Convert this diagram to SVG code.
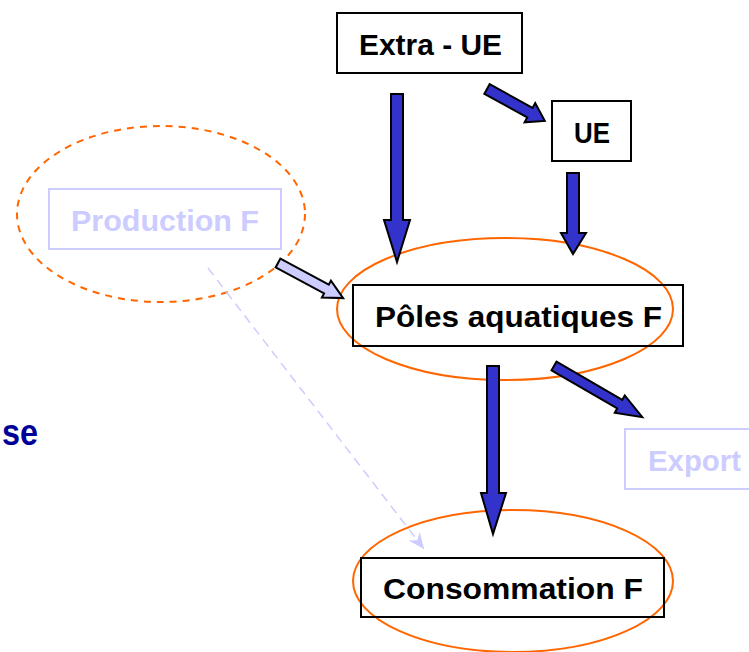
<svg xmlns="http://www.w3.org/2000/svg" width="749" height="652" viewBox="0 0 749 652">
<defs>
<style>
.box{fill:none;stroke:#000;stroke-width:2}
.lbox{fill:none;stroke:#CCCCFF;stroke-width:2}
.lbl{font-family:"Liberation Sans",Arial,sans-serif;font-weight:bold;font-size:29px;fill:#000}
.llbl{font-family:"Liberation Sans",Arial,sans-serif;font-weight:bold;font-size:29px;fill:#CCCCFF}
.ell{fill:none;stroke:#FF6600;stroke-width:2}
.arr{fill:#3333CC;stroke:#000;stroke-width:2;stroke-linejoin:miter}
.larr{fill:#CCCCFF;stroke:#000;stroke-width:2;stroke-linejoin:miter}
.dash{fill:none;stroke:#CCCCFF;stroke-width:1.5;stroke-dasharray:9,6}
</style>
<marker id="stealth" markerUnits="userSpaceOnUse" markerWidth="18" markerHeight="14" refX="16" refY="7" orient="auto">
<path d="M0,0 L16,7 L0,14 L5,7 Z" fill="#CCCCFF"/>
</marker>
</defs>
<rect width="749" height="652" fill="#fff"/>

<g id="title">
<text x="2" y="445" textLength="36" lengthAdjust="spacingAndGlyphs" style="font-family:'Liberation Sans',Arial,sans-serif;font-weight:bold;font-size:36px;fill:#000099">se</text>
</g>

<g id="production">
<ellipse class="ell" cx="161" cy="214" rx="144" ry="88" stroke-dasharray="7,6"/>
<rect class="lbox" x="49" y="189" width="232" height="60"/>
<text class="llbl" x="71" y="231" textLength="188" lengthAdjust="spacingAndGlyphs">Production F</text>
</g>

<g id="extra-ue">
<rect class="box" x="337" y="13" width="185" height="60"/>
<text class="lbl" x="359" y="55" textLength="143" lengthAdjust="spacingAndGlyphs">Extra - UE</text>
</g>

<g id="ue">
<rect class="box" x="552" y="101" width="79" height="60"/>
<text class="lbl" x="574" y="143" textLength="36" lengthAdjust="spacingAndGlyphs">UE</text>
</g>

<g id="poles">
<ellipse class="ell" cx="505" cy="309" rx="168" ry="71"/>
<rect class="box" x="353" y="285" width="330" height="61"/>
<text class="lbl" x="375" y="327" textLength="287" lengthAdjust="spacingAndGlyphs">Pôles aquatiques F</text>
</g>

<g id="export">
<rect class="lbox" x="625" y="429" width="140" height="60"/>
<text class="llbl" x="648" y="471" textLength="93" lengthAdjust="spacingAndGlyphs">Export</text>
</g>

<g id="consommation">
<ellipse class="ell" cx="513" cy="581" rx="160" ry="71"/>
<rect class="box" x="361" y="558" width="303" height="59"/>
<text class="lbl" x="383" y="599" textLength="260" lengthAdjust="spacingAndGlyphs">Consommation F</text>
</g>

<g id="connectors">
<line class="dash" x1="208" y1="268" x2="424" y2="549" marker-end="url(#stealth)"/>
<polygon class="arr" points="391,94 403,94 403,220 410,220 397,262 384,220 391,220"/>
<polygon class="arr" points="567,173 579,173 579,233 586,233 573,254 561,233 567,233"/>
<polygon class="arr" points="487,366 499,366 499,493 506,493 493,534 481,493 487,493"/>
<g transform="translate(487,89) rotate(28.9)">
<polygon class="arr" points="0,-5.5 49,-5.5 49,-11 66,0 49,11 49,5.5 0,5.5"/>
</g>
<g transform="translate(554,366) rotate(30.1)">
<polygon class="arr" points="0,-5 76,-5 76,-10 102,0 76,10 76,5 0,5"/>
</g>
<g transform="translate(278,263) rotate(28.3)">
<polygon class="larr" points="0,-5 55,-5 55,-9.5 74,0 55,9.5 55,5 0,5"/>
</g>
</g>
</svg>
